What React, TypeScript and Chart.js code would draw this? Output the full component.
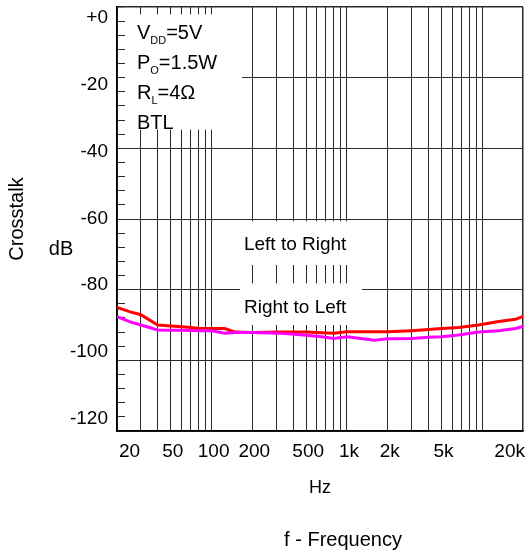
import { useEffect, useRef } from 'react';
import { Chart, registerables } from 'chart.js';

Chart.register(...registerables);

// ---- data ----
const freqHz = [20, 25, 30, 40, 50, 60, 80, 100, 125, 150, 200, 315, 500, 650, 800, 1000, 1600, 2000, 3000, 4000, 5000, 6700, 9400, 13200, 17600, 20000];
const leftToRightDb = [-85.0, -86.3, -87.1, -90.0, -90.3, -90.5, -90.9, -91.0, -91.0, -92.0, -92.1, -92.0, -92.0, -92.2, -92.3, -91.9, -91.9, -91.9, -91.6, -91.3, -91.0, -90.7, -90.0, -89.0, -88.4, -87.6];
const rightToLeftDb = [-87.6, -89.1, -90.0, -91.4, -91.5, -91.5, -91.6, -91.6, -92.3, -92.1, -92.1, -92.3, -92.9, -93.3, -93.8, -93.3, -94.3, -93.9, -93.8, -93.5, -93.3, -92.8, -92.0, -91.6, -91.0, -90.4];

const xGridHz = [20, 30, 40, 50, 60, 70, 80, 90, 100, 200, 300, 400, 500, 600, 700, 800, 900, 1000, 2000, 3000, 4000, 5000, 6000, 7000, 8000, 9000, 10000, 20000];
const xTickValues = [20, 50, 100, 200, 500, 1000, 2000, 5000, 20000];
const xTickLabels = ['20', '50', '100', '200', '500', '1k', '2k', '5k', '20k'];
const yTickValues = [0, -20, -40, -60, -80, -100, -120];
const yTickLabels = ['+0', '-20', '-40', '-60', '-80', '-100', '-120'];
const yMin = -120;
const yMax = 0;
const yMinorStep = 4;

const FONT = "'Liberation Sans', Arial, Helvetica, sans-serif";
const GRID = '#2a2a2a';

const notesPlugin = {
  id: 'notes',
  beforeDatasetsDraw(chart: any) {
    const { ctx, scales } = chart;
    const x = scales.x;
    const y = scales.y;
    const box = (f0: number, f1: number, d0: number, d1: number) => {
      const l = x.getPixelForValue(f0);
      const r = x.getPixelForValue(f1);
      const t = y.getPixelForValue(d0);
      const b = y.getPixelForValue(d1);
      ctx.fillStyle = '#ffffff';
      ctx.fillRect(l, t, r - l, b - t);
      return { l, r, t, b };
    };
    ctx.save();
    const b1 = box(22.9, 168, -2.1, -34.7);
    const b2 = box(162, 1290, -60.7, -73.0);
    const b3 = box(162, 1290, -78.2, -90.0);

    ctx.fillStyle = '#000';
    ctx.textAlign = 'left';
    ctx.textBaseline = 'alphabetic';
    const MAIN = `20px ${FONT}`;
    const SUB = `11px ${FONT}`;
    const lines: [string, boolean][][] = [
      [['V', false], ['DD', true], ['=5V', false]],
      [['P', false], ['O', true], ['=1.5W', false]],
      [['R', false], ['L', true], ['=4Ω', false]],
      [['BTL', false]],
    ];
    lines.forEach((runs, i) => {
      let xx = b1.l + 12;
      const base = b1.t + 25 + i * 30;
      runs.forEach(([txt, sub]) => {
        ctx.font = sub ? SUB : MAIN;
        ctx.fillText(txt, xx, base + (sub ? 5 : 0));
        xx += ctx.measureText(txt).width;
      });
    });

    ctx.font = `19px ${FONT}`;
    ctx.fillText('Left to Right', b2.l + 4, b2.t + 28.5);
    ctx.fillText('Right to Left', b3.l + 4, b3.t + 30);
    ctx.restore();
  },
  afterDraw(chart: any) {
    const { ctx, chartArea } = chart;
    ctx.save();
    ctx.fillStyle = '#000';
    ctx.textAlign = 'center';
    ctx.textBaseline = 'middle';
    ctx.font = `20px ${FONT}`;
    ctx.fillText('dB', chartArea.left - 56, chartArea.top + 242);
    ctx.fillText('f - Frequency', chartArea.left + 226, chartArea.bottom + 109);
    ctx.restore();
  },
};

export default function App() {
  const ref = useRef<HTMLCanvasElement | null>(null);

  useEffect(() => {
    if (!ref.current) return;
    const chart = new Chart(ref.current, {
      type: 'line',
      data: {
        datasets: [
          {
            label: 'Right to Left',
            data: freqHz.map((f, i) => ({ x: f, y: rightToLeftDb[i] })),
            borderColor: '#ff00ff',
            backgroundColor: '#ff00ff',
            borderWidth: 3,
            pointRadius: 0,
            tension: 0,
            xAxisID: 'x',
            yAxisID: 'y',
            order: 0,
          },
          {
            label: 'Left to Right',
            data: freqHz.map((f, i) => ({ x: f, y: leftToRightDb[i] })),
            borderColor: '#ff0000',
            backgroundColor: '#ff0000',
            borderWidth: 3,
            pointRadius: 0,
            tension: 0,
            xAxisID: 'x',
            yAxisID: 'y',
            order: 1,
          },
        ],
      },
      options: {
        responsive: false,
        animation: false,
        events: [],
        layout: { padding: { top: 7, right: 7, left: 0, bottom: 0 } },
        plugins: { legend: { display: false }, tooltip: { enabled: false } },
        scales: {
          y: {
            type: 'linear',
            axis: 'y',
            position: 'left',
            weight: 0,
            min: yMin,
            max: yMax,
            afterBuildTicks: (s: any) => {
              const t = [];
              for (let v = yMin; v <= yMax; v += yMinorStep) t.push({ value: v });
              s.ticks = t;
            },
            afterFit: (s: any) => {
              s.width = 0;
              s.paddingTop = 0;
              s.paddingBottom = 0;
            },
            ticks: { display: false },
            grid: {
              color: (c: any) => (c.tick && c.tick.value % 20 === 0 ? GRID : 'rgba(0,0,0,0)'),
              lineWidth: (c: any) => (c.tick && c.tick.value === yMax ? 1.5 : 1),
              tickColor: GRID,
              tickWidth: 1,
              tickLength: -8,
              drawTicks: true,
            },
            border: { display: true, color: '#000', width: 1.5 },
          },
          yl: {
            type: 'linear',
            axis: 'y',
            position: 'left',
            weight: 1,
            min: -123.8,
            max: 3.36,
            afterBuildTicks: (s: any) => {
              s.ticks = yTickValues.map((v) => ({ value: v }));
            },
            afterFit: (s: any) => {
              s.width = 117;
              s.paddingTop = 0;
              s.paddingBottom = 0;
            },
            ticks: {
              padding: 9,
              color: '#000',
              font: { family: FONT, size: 19 },
              callback: (v: any) => {
                const i = yTickValues.indexOf(Number(v));
                return i >= 0 ? yTickLabels[i] : '';
              },
            },
            grid: { display: false, drawTicks: false },
            border: { display: false },
            title: {
              display: true,
              text: 'Crosstalk',
              color: '#000',
              font: { family: FONT, size: 20 },
              padding: { top: 5, bottom: 0 },
            },
          },
          x: {
            type: 'logarithmic',
            axis: 'x',
            position: 'bottom',
            min: 20,
            max: 20000,
            afterBuildTicks: (s: any) => {
              s.ticks = xGridHz.map((v) => ({ value: v }));
            },
            afterFit: (s: any) => {
              s.height = 121;
              s.paddingLeft = 0;
              s.paddingRight = 0;
            },
            ticks: {
              autoSkip: false,
              maxRotation: 0,
              minRotation: 0,
              align: 'inner',
              labelOffset: 2,
              padding: 9,
              color: '#000',
              font: { family: FONT, size: 19 },
              callback: (v: any) => {
                const i = xTickValues.indexOf(Number(v));
                return i >= 0 ? xTickLabels[i] : '';
              },
            },
            grid: {
              color: GRID,
              lineWidth: (c: any) => (c.tick && c.tick.value === 20000 ? 1.5 : 1),
              drawTicks: false,
            },
            border: { display: true, color: '#000', width: 1.5 },
            title: {
              display: true,
              text: 'Hz',
              color: '#000',
              font: { family: FONT, size: 18 },
              padding: { top: 0, bottom: 53 },
            },
          },
        },
      } as any,
      plugins: [notesPlugin],
    });
    return () => chart.destroy();
  }, []);

  return (
    <div style={{ position: 'fixed', left: 0, top: 0, width: 530, height: 552, background: '#fff' }}>
      <canvas ref={ref} width={530} height={552} style={{ display: 'block', width: 530, height: 552 }} />
    </div>
  );
}
